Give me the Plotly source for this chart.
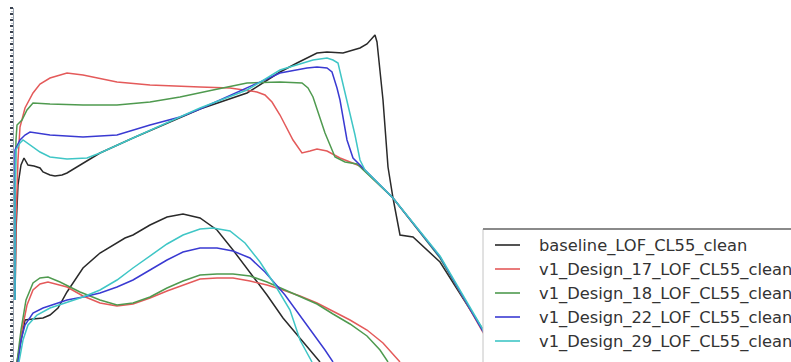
import plotly.graph_objects as go

# Series names
names = ["baseline_LOF_CL55_clean", "v1_Design_17_LOF_CL55_clean", "v1_Design_18_LOF_CL55_clean",
         "v1_Design_22_LOF_CL55_clean", "v1_Design_29_LOF_CL55_clean"]
colors = ["#2a2a2a", "#e45a5a", "#4f9a4f", "#3a3ad2", "#3fc6c6"]

# baseline
base_up_x = [1, 2, 4, 7, 10, 14, 20, 26, 29, 36, 41, 48, 53, 66, 86, 119, 153, 186, 233, 266, 283, 303, 313, 329, 346, 353, 361, 363, 369, 374, 379, 382, 386, 399, 426, 471]
base_up_y = [62, 132, 177, 197, 204, 197, 196, 194, 190, 187, 186, 187, 189, 197, 209, 224, 239, 253, 269, 290, 299, 309, 310, 309, 314, 318, 327, 320, 262, 195, 164, 147, 127, 125, 100, 29]
base_lo_x = [3, 6, 11, 19, 29, 36, 44, 53, 69, 86, 103, 111, 119, 136, 153, 169, 186, 203, 219, 236, 253, 269, 286, 306]
base_lo_y = [0, 17, 42, 43, 44, 47, 54, 70, 94, 109, 119, 124, 127, 137, 145, 148, 144, 132, 112, 90, 67, 44, 24, 0]

# Design 17
d17_up_x = [1, 2, 4, 6, 11, 19, 26, 36, 53, 69, 103, 136, 186, 216, 243, 251, 258, 266, 279, 288, 296, 303, 313, 326, 346, 379, 426, 471]
d17_up_y = [62, 142, 202, 235, 254, 269, 278, 284, 289, 287, 280, 277, 275, 274, 270, 267, 260, 247, 222, 209, 211, 213, 211, 204, 196, 164, 105, 26]
d17_lo_x = [4, 8, 13, 19, 26, 34, 53, 69, 86, 103, 119, 136, 153, 169, 186, 203, 219, 236, 253, 269, 286, 303, 319, 336, 353, 369, 386]
d17_lo_y = [0, 32, 57, 72, 78, 80, 75, 66, 59, 56, 58, 64, 71, 77, 83, 84, 84, 81, 77, 72, 66, 59, 51, 42, 32, 19, 0]

# Design 18
d18_up_x = [1, 1, 2, 3, 8, 13, 19, 36, 69, 103, 136, 166, 199, 233, 266, 288, 294, 299, 311, 321, 331, 343, 379, 426, 471]
d18_up_y = [62, 162, 222, 237, 242, 252, 259, 258, 257, 257, 260, 265, 272, 279, 280, 279, 274, 265, 229, 205, 200, 198, 164, 104, 28]
d18_lo_x = [3, 7, 12, 19, 26, 34, 46, 66, 86, 103, 119, 136, 153, 169, 186, 203, 219, 236, 253, 269, 286, 303, 319, 336, 353, 366, 374]
d18_lo_y = [0, 32, 62, 79, 84, 85, 80, 70, 62, 57, 59, 65, 74, 81, 87, 88, 88, 86, 80, 73, 66, 58, 48, 38, 26, 12, 0]

# Design 22
d22_up_x = [1, 1, 1, 6, 11, 16, 23, 36, 69, 103, 136, 166, 186, 233, 266, 293, 303, 313, 318, 323, 326, 333, 339, 349, 379, 426, 471]
d22_up_y = [62, 162, 212, 222, 227, 230, 229, 227, 225, 227, 237, 245, 253, 274, 289, 294, 295, 294, 290, 274, 262, 222, 204, 194, 164, 105, 27]
d22_lo_x = [4, 7, 11, 19, 29, 41, 53, 69, 86, 103, 119, 136, 153, 169, 186, 203, 219, 236, 251, 271, 291, 311, 319]
d22_lo_y = [0, 22, 37, 49, 54, 58, 62, 65, 69, 75, 82, 92, 102, 110, 114, 114, 111, 104, 90, 67, 40, 12, 0]

# Design 29
d29_up_x = [1, 1, 2, 6, 9, 16, 26, 36, 53, 73, 86, 119, 153, 186, 233, 266, 299, 313, 319, 324, 328, 336, 341, 346, 351, 379, 426, 471]
d29_up_y = [62, 162, 212, 219, 222, 217, 210, 205, 203, 204, 209, 224, 239, 254, 272, 292, 302, 304, 302, 299, 282, 250, 227, 202, 192, 164, 106, 29]
d29_lo_x = [5, 9, 14, 23, 36, 53, 69, 86, 103, 119, 136, 153, 169, 186, 199, 216, 231, 246, 261, 276, 286, 298]
d29_lo_y = [0, 22, 37, 47, 54, 60, 65, 72, 82, 94, 106, 118, 127, 133, 134, 131, 119, 100, 77, 52, 22, 0]

series = [
    (base_up_x, base_up_y, base_lo_x, base_lo_y),
    (d17_up_x, d17_up_y, d17_lo_x, d17_lo_y),
    (d18_up_x, d18_up_y, d18_lo_x, d18_lo_y),
    (d22_up_x, d22_up_y, d22_lo_x, d22_lo_y),
    (d29_up_x, d29_up_y, d29_lo_x, d29_lo_y),
]

W, H = 791, 362
ML, MT = 14, 8
PW, PH = W - ML, H - MT

def px(xpix):
    return (xpix - ML) / PW

def py(ypix):
    return (H - ypix) / PH

fig = go.Figure()
for name, color, (ux, uy, lx, ly) in zip(names, colors, series):
    fig.add_trace(go.Scatter(
        x=list(ux) + [None] + list(lx),
        y=list(uy) + [None] + list(ly),
        mode="lines", name=name, connectgaps=False, showlegend=False,
        line=dict(color=color, width=1.5),
    ))

# Legend drawn manually (the reference legend box is cropped by the image edge)
shapes = [
    dict(type="rect", xref="paper", yref="paper", x0=px(483), x1=px(800), y0=py(372), y1=py(229),
         fillcolor="white", line=dict(color="#c4c4c4", width=1), layer="above"),
    dict(type="line", xref="paper", yref="paper", x0=px(483), x1=px(800), y0=py(229), y1=py(229),
         line=dict(color="#8a8a8a", width=2), layer="above"),
]
annotations = []
row_top, row_step = 245, 24
for i, (name, color) in enumerate(zip(names, colors)):
    yy = row_top + i * row_step
    shapes.append(dict(type="line", xref="paper", yref="paper", x0=px(495), x1=px(520),
                       y0=py(yy), y1=py(yy), line=dict(color=color, width=1.6), layer="above"))
    annotations.append(dict(text=name, xref="paper", yref="paper", x=px(537), y=py(yy + 1),
                            xanchor="left", yanchor="middle", showarrow=False,
                            font=dict(family="DejaVu Sans", size=16.3, color="#333")))

fig.update_layout(
    width=W, height=H,
    margin=dict(l=ML, r=0, t=MT, b=0),
    paper_bgcolor="white", plot_bgcolor="white",
    font=dict(family="DejaVu Sans", color="#333"),
    showlegend=False,
    shapes=shapes, annotations=annotations,
    xaxis=dict(range=[0, 777], visible=False, showgrid=False, zeroline=False),
    yaxis=dict(range=[0, 354], showgrid=False, zeroline=False, showticklabels=False,
               showline=True, linecolor="#9aa4b0", linewidth=1,
               ticks="outside", ticklen=3, tickwidth=2, tickcolor="#3a4250", dtick=6, tick0=0,
               minor=dict(ticks="outside", ticklen=2, tickwidth=1, tickcolor="#b8c0cc", dtick=3)),
)

fig.write_html("out.html", config={"displayModeBar": False},
               post_script="document.body.style.margin='0';document.body.style.overflow='hidden';")
